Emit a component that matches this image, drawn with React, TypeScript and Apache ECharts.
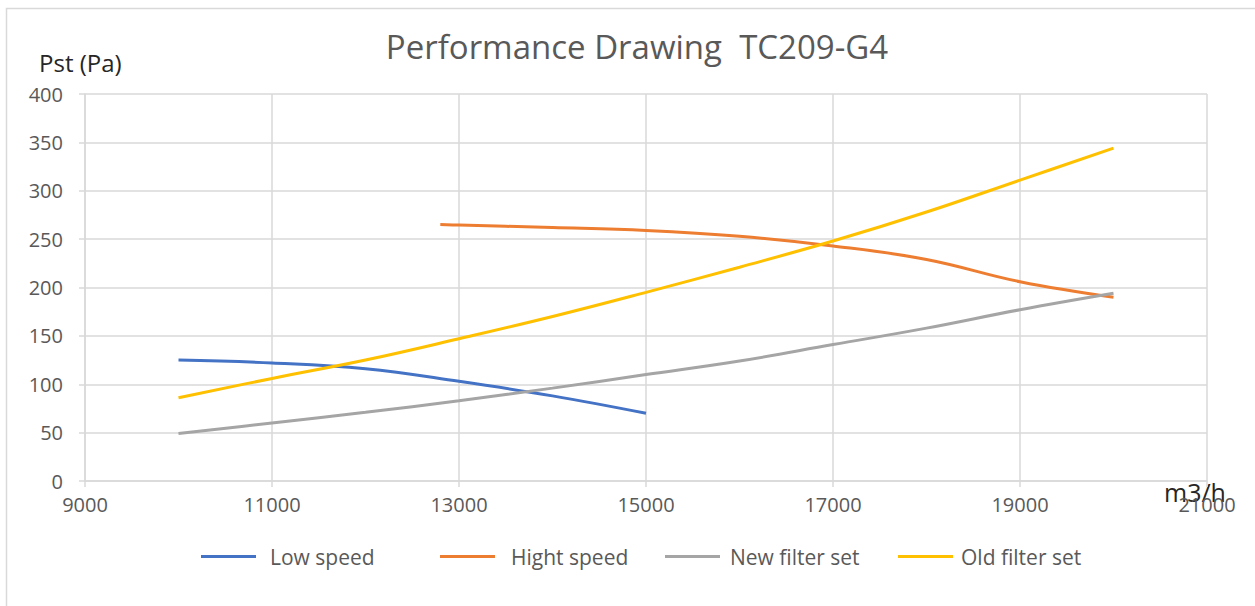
import React, { useEffect, useRef } from "react";
import * as echarts from "echarts";

const xTicks = [9000, 11000, 13000, 15000, 17000, 19000, 21000];

const lowSpeedX = [10000, 11000, 12000, 13000, 14000, 15000];
const lowSpeedY = [125, 122, 116, 103, 88, 70];

const highSpeedX = [12800, 13000, 14000, 15000, 16000, 17000, 18000, 19000, 20000];
const highSpeedY = [265, 264.5, 262, 259, 253, 243, 229, 206, 190];

const newFilterX = [10000, 11000, 12000, 13000, 14000, 15000, 16000, 17000, 18000, 19000, 20000];
const newFilterY = [49, 60, 71, 83, 96, 110, 124, 141, 158, 177, 194];

const oldFilterX = [10000, 11000, 12000, 13000, 14000, 15000, 16000, 17000, 18000, 19000, 20000];
const oldFilterY = [86, 106, 125, 147, 170, 195, 221, 248, 278, 311, 344];

const seriesNames = ["Low speed", "Hight speed", "New filter set", "Old filter set"];
const seriesColors = ["#4472C4", "#ED7D31", "#A5A5A5", "#FFC000"];
const legendLefts = [196, 435, 660, 893];
const legendTextGaps = [9, 11, 5, 3];

const zip = (xs: number[], ys: number[]) => xs.map((x, i) => [x, ys[i]]);

export default function App() {
  const ref = useRef<HTMLDivElement>(null);
  useEffect(() => {
    if (!ref.current) return;
    const chart = echarts.init(ref.current, undefined, { renderer: "svg" });
    const font = "'Open Sans', sans-serif";
    const data = [
      zip(lowSpeedX, lowSpeedY),
      zip(highSpeedX, highSpeedY),
      zip(newFilterX, newFilterY),
      zip(oldFilterX, oldFilterY),
    ];
    chart.setOption({
      animation: false,
      backgroundColor: "#ffffff",
      grid: { left: 85, right: 48, top: 94, bottom: 125, containLabel: false },
      xAxis: {
        type: "value",
        min: xTicks[0],
        max: xTicks[xTicks.length - 1],
        interval: 2000,
        axisLine: { show: true, lineStyle: { color: "#d9d9d9", width: 1.5 } },
        axisTick: { show: true, length: 6, lineStyle: { color: "#d9d9d9", width: 1.5 } },
        splitLine: { show: true, lineStyle: { color: "#d9d9d9", width: 1.5 } },
        axisLabel: {
          color: "#595959",
          fontSize: 20,
          fontFamily: font,
          margin: 13,
          formatter: (v: number) => String(v),
        },
      },
      yAxis: {
        type: "value",
        min: 0,
        max: 400,
        interval: 50,
        axisLine: { show: true, lineStyle: { color: "#d9d9d9", width: 1.5 } },
        axisTick: { show: true, length: 6, lineStyle: { color: "#d9d9d9", width: 1.5 } },
        splitLine: { show: true, lineStyle: { color: "#d9d9d9", width: 1.5 } },
        axisLabel: { color: "#595959", fontSize: 20, fontFamily: font, margin: 22 },
      },
      legend: seriesNames.map((n, i) => ({
        data: [n],
        left: legendLefts[i],
        top: 541,
        icon: "rect",
        itemWidth: 55,
        itemHeight: 3,
        selectedMode: false,
        textStyle: {
          color: "#595959",
          fontSize: 21,
          fontFamily: font,
          padding: [0, 0, 0, legendTextGaps[i]],
        },
      })),
      graphic: [
        {
          type: "rect",
          shape: { x: 6.5, y: 8.5, width: 1400, height: 800 },
          style: { fill: "none", stroke: "#d9d9d9", lineWidth: 1.5 },
          silent: true,
        },
        {
          type: "text",
          x: 637,
          y: 46,
          style: {
            text: "Performance Drawing  TC209-G4",
            fontSize: 33,
            fontFamily: font,
            fill: "#595959",
            align: "center",
            verticalAlign: "middle",
          },
        },
        {
          type: "text",
          x: 39,
          y: 62,
          style: {
            text: "Pst (Pa)",
            fontSize: 24,
            fontFamily: font,
            fill: "#262626",
            align: "left",
            verticalAlign: "middle",
          },
        },
        {
          type: "text",
          x: 1164,
          y: 492,
          style: {
            text: "m3/h",
            fontSize: 25,
            fontFamily: font,
            fill: "#262626",
            align: "left",
            verticalAlign: "middle",
          },
        },
      ],
      series: seriesNames.map((n, i) => ({
        name: n,
        type: "line",
        data: data[i],
        smooth: 0.4,
        showSymbol: false,
        symbol: "none",
        lineStyle: { color: seriesColors[i], width: 3 },
        itemStyle: { color: seriesColors[i] },
      })),
    });
    return () => chart.dispose();
  }, []);
  return (
    <div
      ref={ref}
      style={{ position: "fixed", left: 0, top: 0, width: 1255, height: 606, background: "#fff" }}
    />
  );
}
